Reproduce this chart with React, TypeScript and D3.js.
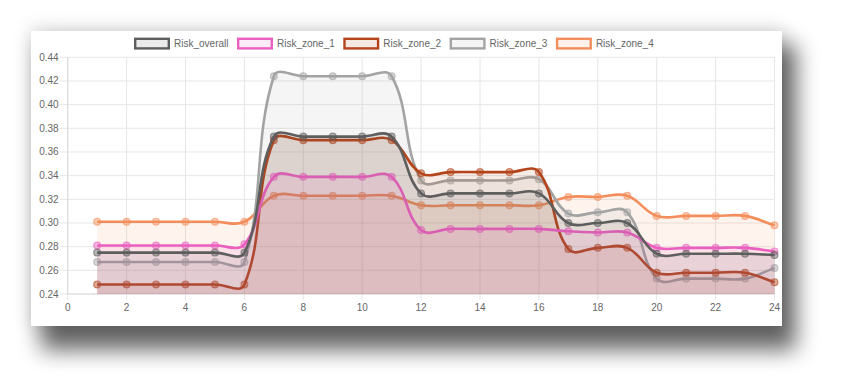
import React from 'react';
import * as d3 from 'd3';

// hour of day on the x axis
const hours = [1, 2, 3, 4, 5, 6, 7, 8, 9, 10, 11, 12, 13, 14, 15, 16, 17, 18, 19, 20, 21, 22, 23, 24];

const seriesNames = ['Risk_overall', 'Risk_zone_1', 'Risk_zone_2', 'Risk_zone_3', 'Risk_zone_4'];
const seriesColors = ['#5e5e5e', '#ea5fbf', '#b4451b', '#a3a3a3', '#f38e5c'];

const riskOverall = [0.275, 0.275, 0.275, 0.275, 0.275, 0.275, 0.373, 0.373, 0.373, 0.373, 0.373, 0.325, 0.325, 0.325, 0.325, 0.325, 0.3, 0.3, 0.3, 0.274, 0.274, 0.274, 0.274, 0.273];
const riskZone1 = [0.281, 0.281, 0.281, 0.281, 0.281, 0.282, 0.339, 0.339, 0.339, 0.339, 0.339, 0.294, 0.295, 0.295, 0.295, 0.295, 0.293, 0.292, 0.292, 0.279, 0.279, 0.279, 0.279, 0.276];
const riskZone2 = [0.248, 0.248, 0.248, 0.248, 0.248, 0.248, 0.37, 0.37, 0.37, 0.37, 0.37, 0.342, 0.343, 0.343, 0.343, 0.343, 0.278, 0.279, 0.279, 0.258, 0.258, 0.258, 0.258, 0.25];
const riskZone3 = [0.267, 0.267, 0.267, 0.267, 0.267, 0.267, 0.424, 0.424, 0.424, 0.424, 0.424, 0.336, 0.336, 0.336, 0.336, 0.337, 0.308, 0.309, 0.309, 0.253, 0.253, 0.253, 0.253, 0.262];
const riskZone4 = [0.301, 0.301, 0.301, 0.301, 0.301, 0.301, 0.323, 0.323, 0.323, 0.323, 0.323, 0.315, 0.315, 0.315, 0.315, 0.315, 0.322, 0.322, 0.323, 0.306, 0.306, 0.306, 0.306, 0.298];

const seriesValues = [riskOverall, riskZone1, riskZone2, riskZone3, riskZone4];

const xTicks = [0, 2, 4, 6, 8, 10, 12, 14, 16, 18, 20, 22, 24];
const yTicks = [0.24, 0.26, 0.28, 0.3, 0.32, 0.34, 0.36, 0.38, 0.4, 0.42, 0.44];

const W = 845;
const H = 391;
const card = { x: 31, y: 31, w: 751, h: 295 };
const area = { left: 67.7, right: 774.5, top: 57.3, bottom: 294 };
const FONT = '"Liberation Sans", Arial, Helvetica, sans-serif';

const x = d3.scaleLinear().domain([0, 24]).range([area.left, area.right]);
const y = d3.scaleLinear().domain([0.24, 0.44]).range([area.bottom, area.top]);

// same bezier control points as a chart.js line with tension 0.4
function splinePath(pts: [number, number][], tension = 0.4) {
  const n = pts.length;
  const cap = (v: number, lo: number, hi: number) => Math.max(Math.min(v, hi), lo);
  const ctrl = pts.map((p, i) => {
    const prev = pts[Math.max(0, i - 1)];
    const next = pts[Math.min(n - 1, i + 1)];
    const d01 = Math.hypot(p[0] - prev[0], p[1] - prev[1]);
    const d12 = Math.hypot(next[0] - p[0], next[1] - p[1]);
    const s01 = d01 + d12 ? d01 / (d01 + d12) : 0;
    const s12 = d01 + d12 ? d12 / (d01 + d12) : 0;
    const fa = tension * s01;
    const fb = tension * s12;
    return {
      prev: [cap(p[0] - fa * (next[0] - prev[0]), area.left, area.right), cap(p[1] - fa * (next[1] - prev[1]), area.top, area.bottom)],
      next: [cap(p[0] + fb * (next[0] - prev[0]), area.left, area.right), cap(p[1] + fb * (next[1] - prev[1]), area.top, area.bottom)],
    };
  });
  const path = d3.path();
  path.moveTo(pts[0][0], pts[0][1]);
  for (let i = 1; i < n; i++) {
    path.bezierCurveTo(ctrl[i - 1].next[0], ctrl[i - 1].next[1], ctrl[i].prev[0], ctrl[i].prev[1], pts[i][0], pts[i][1]);
  }
  return path.toString();
}

function textWidth(s: string, size: number) {
  const ctx = document.createElement('canvas').getContext('2d');
  if (!ctx) return s.length * size * 0.5;
  ctx.font = `${size}px "Liberation Sans"`;
  return ctx.measureText(s).width;
}

const App: React.FC = () => {
  // legend layout
  let lx = 134;
  const legend = seriesNames.map((name, i) => {
    const item = { name, color: seriesColors[i], x: lx };
    lx += 36 + 4 + textWidth(name, 10) + 8.5;
    return item;
  });

  // chart.js draws the last dataset first
  const order = seriesNames.map((_, i) => i).reverse();

  return (
    <svg width={W} height={H} style={{ position: 'absolute', left: 0, top: 0, background: '#fff' }} fontFamily={FONT}>
      <defs>
        <filter id="shadowBlur" x="-20%" y="-30%" width="140%" height="170%">
          <feGaussianBlur stdDeviation="11" />
        </filter>
        <filter id="haloBlur" x="-20%" y="-30%" width="140%" height="170%">
          <feGaussianBlur stdDeviation="9" />
        </filter>
        <clipPath id="plotClip">
          <rect x={area.left} y={area.top - 10} width={area.right - area.left + 4} height={area.bottom - area.top + 10} />
        </clipPath>
      </defs>

      {/* pasted-image drop shadow */}
      <rect x={card.x - 2} y={card.y - 4} width={card.w + 4} height={card.h + 6} fill="#000" opacity={0.12} filter="url(#haloBlur)" />
      <rect x={card.x + 10} y={card.y + 14} width={card.w + 4} height={card.h + 10} fill="#000" opacity={0.6} filter="url(#shadowBlur)" />
      <rect x={card.x} y={card.y} width={card.w} height={card.h} fill="#fff" />

      {/* grid */}
      {yTicks.map((t) => (
        <g key={'y' + t}>
          <line x1={area.left - 8} x2={area.right} y1={y(t)} y2={y(t)} stroke="#e6e6e6" strokeWidth={1} />
          <text x={area.left - 9} y={y(t)} dy="0.35em" textAnchor="end" fontSize={10} fill="#666">
            {t.toFixed(2)}
          </text>
        </g>
      ))}
      {xTicks.map((t) => (
        <g key={'x' + t}>
          <line x1={x(t)} x2={x(t)} y1={area.top} y2={area.bottom + 6} stroke="#e6e6e6" strokeWidth={1} />
          <text x={x(t)} y={area.bottom + 16.5} textAnchor="middle" fontSize={10} fill="#666">
            {t}
          </text>
        </g>
      ))}
      <line x1={area.left} x2={area.left} y1={area.top} y2={area.bottom} stroke="#d9d9d9" />
      <line x1={area.left} x2={area.right} y1={area.bottom} y2={area.bottom} stroke="#d9d9d9" />

      {/* datasets */}
      {order.map((si) => {
        const pts: [number, number][] = hours.map((h, i) => [x(h), y(seriesValues[si][i])]);
        const line = splinePath(pts);
        const fillPath = `${line}L${pts[pts.length - 1][0]},${area.bottom}L${pts[0][0]},${area.bottom}Z`;
        const c = d3.color(seriesColors[si])!;
        const fillC = c.copy({ opacity: 0.11 }).toString();
        const ptFill = c.copy({ opacity: 0.45 }).toString();
        const ptStroke = c.copy({ opacity: 0.6 }).toString();
        return (
          <g key={seriesNames[si]}>
            <path d={fillPath} fill={fillC} stroke="none" />
            <path d={line} fill="none" stroke={seriesColors[si]} strokeWidth={2.6} strokeLinejoin="round" />
            {pts.map((p, i) => (
              <circle key={i} cx={p[0]} cy={p[1]} r={3.4} fill={ptFill} stroke={ptStroke} strokeWidth={1.2} />
            ))}
          </g>
        );
      })}

      {/* legend */}
      {legend.map((l) => (
        <g key={l.name}>
          <rect x={l.x + 1.2} y={38.8} width={33.6} height={9.6} fill={d3.color(l.color)!.copy({ opacity: 0.12 }).toString()} stroke={l.color} strokeWidth={2.4} />
          <text x={l.x + 40} y={43.6} dy="0.35em" fontSize={10} fill="#666">
            {l.name}
          </text>
        </g>
      ))}
    </svg>
  );
};

export default App;
